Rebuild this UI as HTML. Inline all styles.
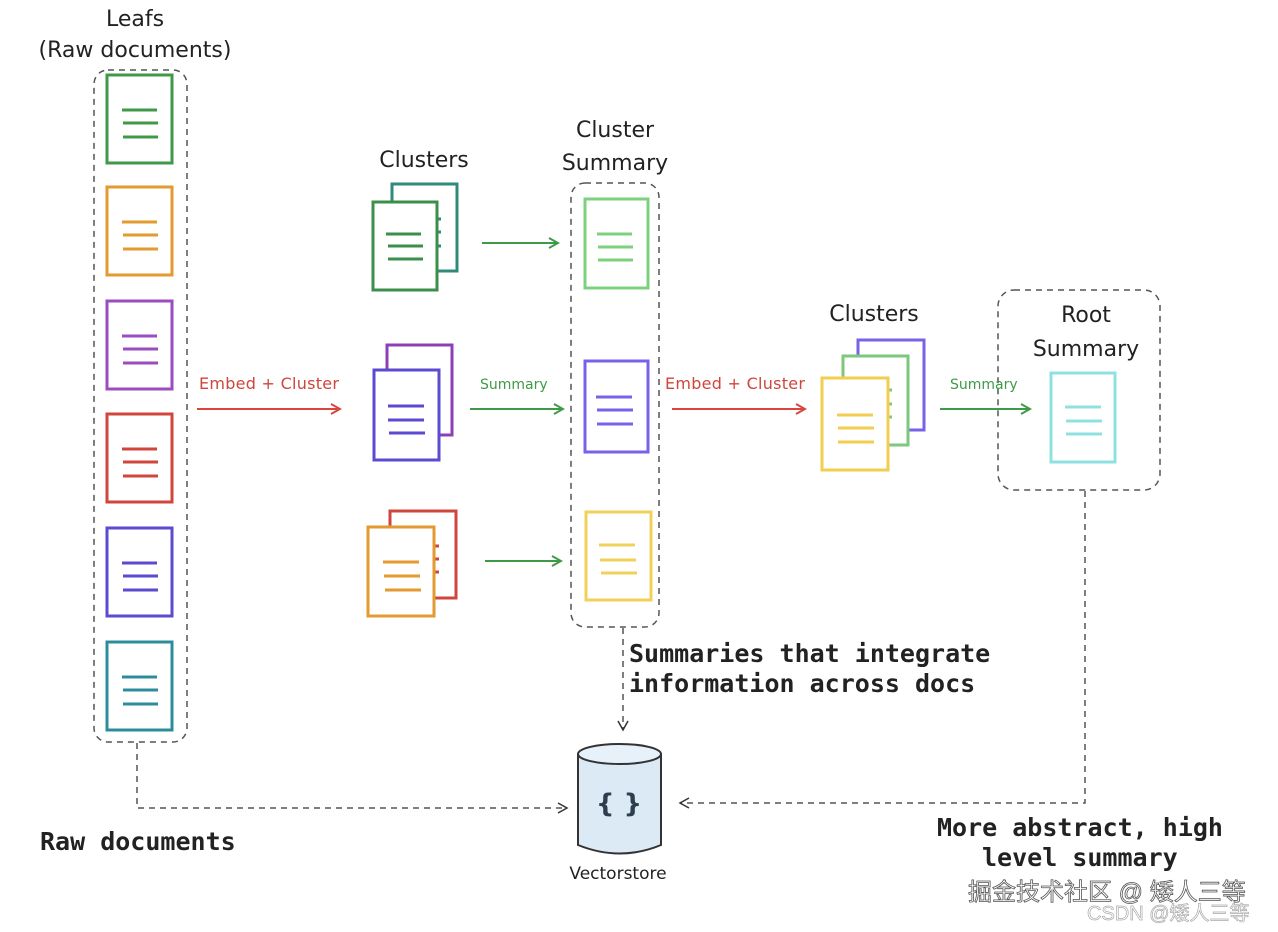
<!DOCTYPE html>
<html><head><meta charset="utf-8"><style>
html,body{margin:0;padding:0;background:#fff;width:1278px;height:932px;overflow:hidden}
svg{display:block}
.h{font-family:"DejaVu Sans","Liberation Sans",sans-serif;fill:#222}
.m{font-family:"DejaVu Sans Mono","Liberation Mono",monospace;fill:#222;font-weight:bold}
</style></head><body>
<svg width="1278" height="932" viewBox="0 0 1278 932" xmlns="http://www.w3.org/2000/svg">
<defs>
<marker id="ar" markerWidth="12" markerHeight="12" refX="10" refY="6" orient="auto" markerUnits="userSpaceOnUse"><path d="M1,1 L10,6 L1,11" fill="none" stroke="#d8463f" stroke-width="2"/></marker>
<marker id="ag" markerWidth="12" markerHeight="12" refX="10" refY="6" orient="auto" markerUnits="userSpaceOnUse"><path d="M1,1 L10,6 L1,11" fill="none" stroke="#3f9a48" stroke-width="2"/></marker>
<marker id="ak" markerWidth="12" markerHeight="12" refX="10" refY="6" orient="auto" markerUnits="userSpaceOnUse"><path d="M1,1 L10,6 L1,11" fill="none" stroke="#333" stroke-width="1.5"/></marker>
</defs>
<g fill="none" stroke-width="3">
<g><rect x="107" y="75" width="65" height="88" stroke="#3f9a48" fill="#fff"/><path d="M122 110h35M123 123h35M123 137h35" stroke="#3f9a48"/></g>
<g><rect x="107" y="187" width="65" height="88" stroke="#e39a2e" fill="#fff"/><path d="M122 222h35M123 235h35M123 249h35" stroke="#e39a2e"/></g>
<g><rect x="107" y="301" width="65" height="88" stroke="#9a4cc0" fill="#fff"/><path d="M122 336h35M123 349h35M123 363h35" stroke="#9a4cc0"/></g>
<g><rect x="107" y="414" width="65" height="88" stroke="#d0453c" fill="#fff"/><path d="M122 449h35M123 462h35M123 476h35" stroke="#d0453c"/></g>
<g><rect x="107" y="528" width="65" height="88" stroke="#5b4ad2" fill="#fff"/><path d="M122 563h35M123 576h35M123 590h35" stroke="#5b4ad2"/></g>
<g><rect x="107" y="642" width="65" height="88" stroke="#2d8c9c" fill="#fff"/><path d="M122 677h35M123 690h35M123 704h35" stroke="#2d8c9c"/></g>
<rect x="392" y="184" width="65" height="87" stroke="#2f8a78" fill="#fff"/>
<path d="M437 219h4M437 232h4M437 246h4" stroke="#2f8a78"/>
<rect x="373" y="202" width="64" height="88" stroke="#3a8f4a" fill="#fff"/>
<path d="M386 234h35M388 246h35M388 259h35" stroke="#3a8f4a"/>
<rect x="387" y="345" width="65" height="90" stroke="#8e3fb8" fill="#fff"/>
<rect x="374" y="370" width="65" height="90" stroke="#5b4ad2" fill="#fff"/>
<path d="M388 406h36M388 420h36M389 433h36" stroke="#5b4ad2"/>
<rect x="390" y="511" width="66" height="87" stroke="#d0453c" fill="#fff"/>
<path d="M434 546h5M434 559h5M434 572h5" stroke="#d0453c"/>
<rect x="368" y="527" width="66" height="89" stroke="#e39a2e" fill="#fff"/>
<path d="M383 562h36M384 576h36M385 590h36" stroke="#e39a2e"/>
<rect x="585" y="199" width="63" height="89" stroke="#7dd07d" fill="#fff"/>
<path d="M597 234h35M598 247h35M598 260h35" stroke="#7dd07d"/>
<rect x="585" y="361" width="63" height="91" stroke="#7a62e8" fill="#fff"/>
<path d="M596 397h36M597 410h36M597 424h36" stroke="#7a62e8"/>
<rect x="586" y="512" width="65" height="88" stroke="#f2d15a" fill="#fff"/>
<path d="M599 545h36M600 560h36M601 573h36" stroke="#f2d15a"/>
<rect x="858" y="340" width="66" height="90" stroke="#7a62e8" fill="#fff"/>
<rect x="843" y="356" width="65" height="89" stroke="#7dc87d" fill="#fff"/>
<path d="M888 390h4M888 404h4M888 417h4" stroke="#7dc87d"/>
<rect x="822" y="378" width="66" height="92" stroke="#f2cd50" fill="#fff"/>
<path d="M837 415h36M838 428h36M838 442h36" stroke="#f2cd50"/>
<rect x="1051" y="373" width="64" height="89" stroke="#8fe0e0" fill="#fff"/>
<path d="M1065 407h36M1066 421h36M1066 434h36" stroke="#8fe0e0"/>
</g>
<g fill="none" stroke="#555" stroke-width="1.5" stroke-dasharray="6 5">
<rect x="94" y="70" width="93" height="672" rx="14"/>
<rect x="571" y="183" width="88" height="444" rx="14"/>
<rect x="998" y="290" width="162" height="200" rx="16"/>
<path d="M623 628V730" marker-end="url(#ak)"/>
<path d="M137 743V808H567" marker-end="url(#ak)"/>
<path d="M1085 491V803H680" marker-end="url(#ak)"/>
</g>
<g fill="none" stroke-width="2">
<path d="M197 409H340" stroke="#d8463f" marker-end="url(#ar)"/>
<path d="M672 409H805" stroke="#d8463f" marker-end="url(#ar)"/>
<path d="M482 243H558" stroke="#3f9a48" marker-end="url(#ag)"/>
<path d="M470 409H563" stroke="#3f9a48" marker-end="url(#ag)"/>
<path d="M485 561H561" stroke="#3f9a48" marker-end="url(#ag)"/>
<path d="M940 409H1030" stroke="#3f9a48" marker-end="url(#ag)"/>
</g>
<path d="M578 754V845Q620 862 661 845V754" fill="#dceaf5" stroke="#333" stroke-width="2"/>
<ellipse cx="619.5" cy="754" rx="41.5" ry="10" fill="#e6f1fa" stroke="#333" stroke-width="2"/>
<text x="619" y="812" text-anchor="middle" class="h" style="font-size:26px;fill:#2e3e4e;font-weight:bold">{ }</text>
<g class="h" text-anchor="middle" style="font-size:22px">
<text x="135" y="26">Leafs</text>
<text x="135" y="57">(Raw documents)</text>
<text x="424" y="167">Clusters</text>
<text x="615" y="137">Cluster</text>
<text x="615" y="170">Summary</text>
<text x="874" y="321">Clusters</text>
<text x="1086" y="322">Root</text>
<text x="1086" y="356">Summary</text>
<text x="618" y="879" style="font-size:17px">Vectorstore</text>
</g>
<g class="h" style="font-size:16px">
<text x="199" y="389" textLength="140" style="fill:#d0453c">Embed + Cluster</text>
<text x="665" y="389" textLength="140" style="fill:#d0453c">Embed + Cluster</text>
<text x="480" y="389" style="fill:#3f9a48;font-size:14px">Summary</text>
<text x="950" y="389" style="fill:#3f9a48;font-size:14px">Summary</text>
</g>
<g class="m" style="font-size:25px">
<text x="629" y="662">Summaries that integrate</text>
<text x="629" y="692">information across docs</text>
<text x="40" y="850">Raw documents</text>
<text x="937" y="836">More abstract, high</text>
<text x="982" y="866">level summary</text>
</g>
<text x="968" y="900" style="font-family:'Liberation Sans','Noto Sans CJK SC',sans-serif;font-size:24px;fill:#fff;stroke:#555;stroke-width:0.8">掘金技术社区 @ 矮人三等</text>
<text x="1087" y="920" style="font-family:'Liberation Sans','Noto Sans CJK SC',sans-serif;font-size:20px;fill:#fff;stroke:#aaa;stroke-width:0.7">CSDN @矮人三等</text>
</svg>
</body></html>
